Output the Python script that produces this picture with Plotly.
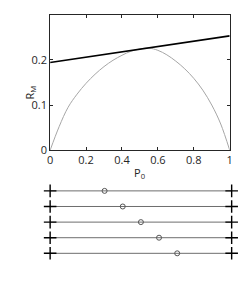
import plotly.graph_objects as go

W, H = 249, 285

# Data
p_curve = [0, 0.05, 0.1, 0.15, 0.2, 0.25, 0.3, 0.35, 0.4, 0.45, 0.5, 0.55, 0.6, 0.65, 0.7, 0.75, 0.8, 0.85, 0.9, 0.95, 1.0]
r_curve = [0, 0.052, 0.095, 0.124, 0.148, 0.168, 0.185, 0.199, 0.210, 0.219, 0.224, 0.226, 0.221, 0.211, 0.197, 0.180, 0.159, 0.133, 0.100, 0.058, 0]
p_line = [0, 1]
r_line = [0.194, 0.253]

x_ticks = [0, 0.2, 0.4, 0.6, 0.8, 1]
x_tick_labels = ["0", "0.2", "0.4", "0.6", "0.8", "1"]
y_ticks = [0, 0.1, 0.2]
y_tick_labels = ["0", "0.1", "0.2"]

rows = [1, 2, 3, 4, 5]
circle_pos = [0.3, 0.4, 0.5, 0.6, 0.7]
end_pos = [0, 1]

FONT = "Open Sans"

def px_x(v):
    return v / W

def px_y(v):
    return 1 - v / H

fig = go.Figure()
fig.add_trace(go.Scatter(x=p_curve, y=r_curve, mode="lines", line=dict(color="#a6a6a6", width=1, shape="spline"),
                         xaxis="x", yaxis="y", showlegend=False, hoverinfo="skip"))
fig.add_trace(go.Scatter(x=p_line, y=r_line, mode="lines", line=dict(color="black", width=1.6),
                         xaxis="x", yaxis="y", showlegend=False, hoverinfo="skip"))

for r, c in zip(rows, circle_pos):
    fig.add_trace(go.Scatter(x=end_pos, y=[r, r], mode="lines", line=dict(color="#6e6e6e", width=1),
                             xaxis="x2", yaxis="y2", showlegend=False, hoverinfo="skip"))
    fig.add_trace(go.Scatter(x=end_pos, y=[r, r], mode="markers",
                             marker=dict(symbol="cross-thin", size=9, color="black", line=dict(color="black", width=1.4)),
                             xaxis="x2", yaxis="y2", showlegend=False, hoverinfo="skip", cliponaxis=False))
    fig.add_trace(go.Scatter(x=[c], y=[r], mode="markers",
                             marker=dict(symbol="circle-open", size=5, color="#555555", line=dict(color="#555555", width=1)),
                             xaxis="x2", yaxis="y2", showlegend=False, hoverinfo="skip"))

axis_common = dict(showline=True, mirror="ticks", linecolor="#262626", linewidth=1, ticks="inside",
                   ticklen=3, tickcolor="#262626", showgrid=False, zeroline=False,
                   tickfont=dict(family=FONT, size=11, color="#262626"))

fig.update_layout(
    width=W, height=H, margin=dict(l=0, r=0, t=0, b=0),
    paper_bgcolor="white", plot_bgcolor="white",
    xaxis=dict(domain=[px_x(48.3), px_x(232.3)], range=[0, 1], tickvals=x_ticks, ticktext=x_tick_labels,
               anchor="y", **axis_common),
    yaxis=dict(domain=[px_y(154), px_y(15)], range=[0, 0.3], tickvals=y_ticks, ticktext=y_tick_labels,
               anchor="x", **axis_common),
    xaxis2=dict(domain=[px_x(48.3), px_x(234.3)], range=[0, 1], visible=False, anchor="y2"),
    yaxis2=dict(domain=[px_y(267.7), px_y(187.7)], range=[5.5, 0.5], visible=False, anchor="x2"),
    annotations=[
        dict(text="P<sub>0</sub>", x=px_x(140), y=px_y(177), xref="paper", yref="paper",
             showarrow=False, font=dict(family=FONT, size=11, color="#262626")),
        dict(text="R<sub>M</sub>", x=px_x(17), y=px_y(86), xref="paper", yref="paper", textangle=-90,
             showarrow=False, font=dict(family=FONT, size=11, color="#262626")),
    ],
)

fig.write_html("out.html", config={"displayModeBar": False},
               post_script="document.body.style.margin='0';document.body.style.overflow='hidden';")
